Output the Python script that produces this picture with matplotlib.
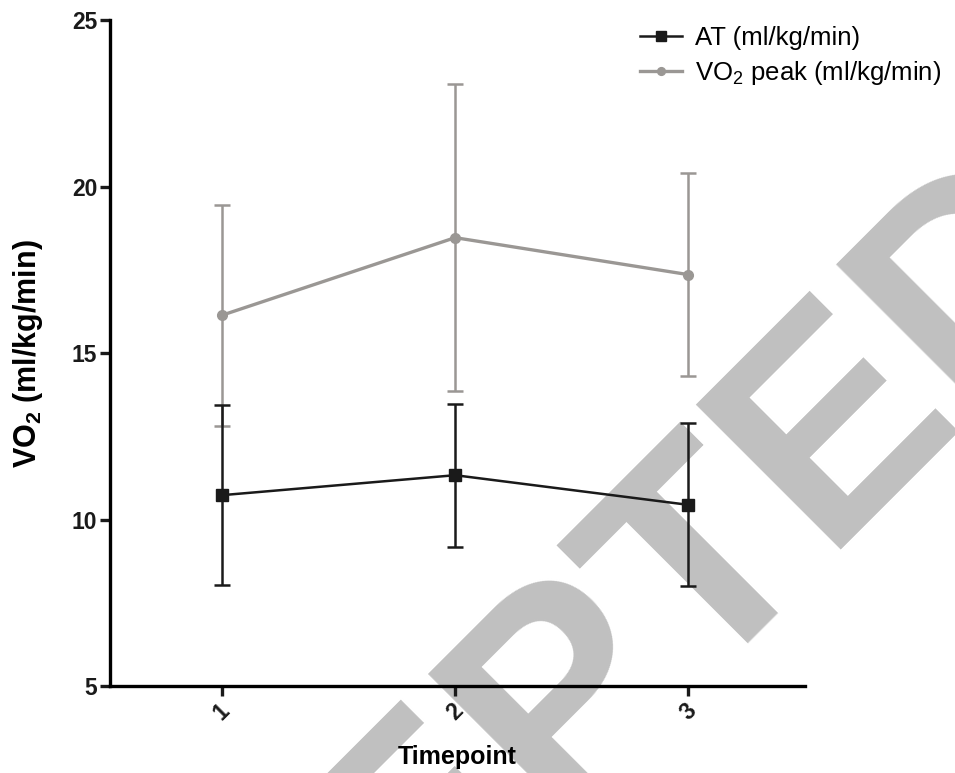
import matplotlib
matplotlib.use("Agg")
import matplotlib.pyplot as plt

timepoints = [1, 2, 3]
at_mean = [10.74, 11.34, 10.45]
at_err = [2.70, 2.15, 2.45]
vo2_mean = [16.14, 18.47, 17.36]
vo2_err = [3.32, 4.61, 3.04]
y_ticks = [5, 10, 15, 20, 25]

AT_COLOR = "#1a1a1a"
VO2_COLOR = "#9a9794"
OUT = "out.png"


def main():
    plt.rcParams["font.family"] = ["Liberation Sans", "DejaVu Sans"]
    plt.rcParams["mathtext.fontset"] = "custom"
    plt.rcParams["mathtext.rm"] = "Liberation Sans"
    plt.rcParams["mathtext.bf"] = "Liberation Sans:bold"

    fig = plt.figure(figsize=(9.55, 7.73), dpi=100)
    ax = fig.add_axes([0.115, 0.112, 0.728, 0.862])
    ax.patch.set_visible(False)

    # watermark, sits behind the data
    fig.text(1.1707, 0.6564, "ACCEPTED", rotation=45, rotation_mode="anchor",
             ha="right", va="baseline", fontsize=214, fontweight="bold",
             color="#c0c0c0", zorder=-1)

    # error bars first, then the lines on top
    ax.errorbar(timepoints, vo2_mean, yerr=vo2_err, fmt="none", ecolor=VO2_COLOR,
                capsize=6, capthick=1.8, elinewidth=1.8)
    ax.errorbar(timepoints, at_mean, yerr=at_err, fmt="none", ecolor=AT_COLOR,
                capsize=6, capthick=1.8, elinewidth=1.8)
    ax.plot(timepoints, at_mean, "-s", color=AT_COLOR, lw=1.8, ms=8.5,
            label="AT (ml/kg/min)")
    ax.plot(timepoints, vo2_mean, "-o", color=VO2_COLOR, lw=2.4, ms=7,
            label=r"VO$_\mathrm{2}$ peak (ml/kg/min)")

    ax.set_xlim(0.52, 3.5)
    ax.set_ylim(5, 25)
    ax.set_yticks(y_ticks)
    ax.set_xticks(timepoints)
    ax.set_xticklabels([str(t) for t in timepoints], rotation=45, ha="center",
                       fontweight="bold", fontsize=16.5)
    for lab in ax.get_yticklabels():
        lab.set_fontweight("bold")
        lab.set_fontsize(16.5)

    for side in ["top", "right"]:
        ax.spines[side].set_visible(False)
    for side in ["left", "bottom"]:
        ax.spines[side].set_linewidth(2.4)
    ax.tick_params(width=2.4, length=7, pad=2, colors="#1a1a1a")

    ax.set_xlabel("Timepoint", fontsize=18, fontweight="bold", labelpad=15)
    ax.set_ylabel(r"VO$_\mathbf{2}$ (ml/kg/min)", fontsize=22, fontweight="bold",
                  labelpad=19)

    ax.legend(loc="upper left", bbox_to_anchor=(0.670, 0.967),
              bbox_transform=fig.transFigure, frameon=False, fontsize=18.5,
              borderpad=0, borderaxespad=0, handlelength=1.65,
              handletextpad=0.5, labelspacing=0.36, markerscale=0.8)

    fig.savefig(OUT)


if __name__ == "__main__":
    main()
